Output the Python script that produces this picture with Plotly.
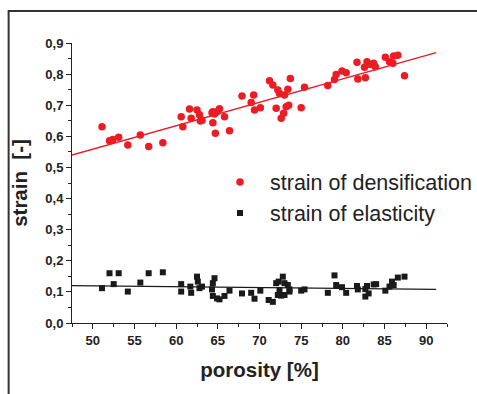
import plotly.graph_objects as go

# --- data ---
dens_porosity = [51.1, 52.0, 52.4, 53.1, 54.2, 55.7, 56.7, 58.4, 60.6, 60.8,
                 61.6, 61.8, 62.5, 62.8, 62.9, 63.1, 64.3, 64.4, 64.6, 64.9,
                 65.2, 64.4, 64.7, 65.8, 66.4, 67.9, 69.3, 69.0, 69.4, 70.1,
                 71.2, 71.6, 72.2, 72.4, 73.0, 73.4, 73.7, 72.0, 73.2, 73.5,
                 72.9, 72.6, 75.0, 75.4, 78.2, 79.0, 79.2, 79.9, 80.4, 81.7,
                 81.8, 82.7, 82.6, 82.9, 83.3, 83.7, 83.9, 85.1, 85.6, 86.0,
                 86.1, 86.6, 87.4]
dens_strain = [0.631, 0.586, 0.590, 0.597, 0.572, 0.604, 0.567, 0.579, 0.663, 0.631,
               0.688, 0.658, 0.685, 0.669, 0.649, 0.652, 0.676, 0.679, 0.672, 0.679,
               0.689, 0.644, 0.610, 0.663, 0.618, 0.730, 0.733, 0.709, 0.685, 0.692,
               0.779, 0.765, 0.749, 0.738, 0.733, 0.751, 0.786, 0.690, 0.695, 0.700,
               0.674, 0.658, 0.692, 0.758, 0.763, 0.783, 0.799, 0.810, 0.804, 0.838,
               0.784, 0.788, 0.822, 0.840, 0.831, 0.835, 0.824, 0.854, 0.840, 0.835,
               0.858, 0.861, 0.795]

elast_porosity = [51.1, 52.0, 52.5, 53.1, 54.2, 55.7, 56.7, 58.4, 60.6, 60.6,
                  61.7, 61.8, 62.5, 62.6, 62.8, 63.1, 64.3, 64.4, 64.6, 64.4,
                  64.9, 65.2, 65.8, 66.4, 67.9, 69.0, 69.4, 70.1, 71.1, 71.6,
                  72.0, 72.3, 72.8, 73.0, 73.4, 73.6, 72.4, 72.6, 73.0, 73.6,
                  72.2, 75.0, 75.4, 78.2, 79.0, 79.2, 79.9, 80.4, 81.7, 81.8,
                  82.7, 82.9, 82.7, 83.1, 83.7, 84.0, 85.1, 85.6, 85.9, 86.1,
                  86.6, 87.4]
elast_strain = [0.112, 0.160, 0.125, 0.160, 0.101, 0.130, 0.160, 0.163, 0.125, 0.101,
                0.117, 0.097, 0.149, 0.133, 0.112, 0.117, 0.108, 0.128, 0.144, 0.087,
                0.079, 0.076, 0.087, 0.104, 0.095, 0.097, 0.078, 0.104, 0.074, 0.068,
                0.128, 0.133, 0.149, 0.128, 0.122, 0.108, 0.106, 0.088, 0.090, 0.101,
                0.090, 0.104, 0.108, 0.097, 0.153, 0.122, 0.115, 0.097, 0.119, 0.108,
                0.109, 0.119, 0.085, 0.095, 0.124, 0.125, 0.104, 0.117, 0.133, 0.122,
                0.146, 0.149]

# linear fit lines as drawn in the reference (end points)
fit_porosity = [47.5, 91.2]
dens_fit = [0.540, 0.869]
elast_fit = [0.120, 0.108]

x_ticks = [50, 55, 60, 65, 70, 75, 80, 85, 90]

RED = "#ec1c24"
BLACK = "#1a1a1a"
FONT = "Arial, 'Liberation Sans', sans-serif"

fig = go.Figure()
fig.add_trace(go.Scatter(x=fit_porosity, y=dens_fit, mode="lines",
                         line=dict(color=RED, width=1.5), showlegend=False,
                         hoverinfo="skip"))
fig.add_trace(go.Scatter(x=fit_porosity, y=elast_fit, mode="lines",
                         line=dict(color=BLACK, width=1.2), showlegend=False,
                         hoverinfo="skip"))
fig.add_trace(go.Scatter(x=dens_porosity, y=dens_strain, mode="markers",
                         name="strain of densification", legendgroup="a",
                         marker=dict(symbol="circle", size=7.5, color=RED)))
fig.add_trace(go.Scatter(x=elast_porosity, y=elast_strain, mode="markers",
                         name="strain of elasticity", legendgroup="b",
                         marker=dict(symbol="square", size=6, color=BLACK)))

axis_common = dict(
    showline=True, linecolor="#222", linewidth=1,
    ticks="outside", ticklen=5, tickwidth=1, tickcolor="#222",
    showgrid=False, zeroline=False,
    tickfont=dict(family=FONT, size=13, color="#222", weight="bold"),
)

fig.update_xaxes(**axis_common, range=[47.5, 92.5], tickvals=x_ticks,
                 minor=dict(ticks="outside", ticklen=3, dtick=2.5, tick0=47.5,
                            tickcolor="#222", showgrid=False),
                 title=dict(text="porosity [%]", standoff=16,
                            font=dict(family=FONT, size=20.5, color="#222",
                                      weight="bold")))
fig.update_yaxes(**axis_common, range=[0, 0.9], dtick=0.1, tick0=0,
                 tickformat=".1f",
                 minor=dict(ticks="outside", ticklen=3, dtick=0.05,
                            tickcolor="#222", showgrid=False),
                 title=dict(text="strain\u00a0\u00a0[-]", standoff=12,
                            font=dict(family=FONT, size=20.5, color="#222",
                                      weight="bold")))

# outer frame of the figure (right and bottom sides lie outside the picture)
fig.add_shape(type="rect", xref="paper", yref="paper",
              x0=-0.169, x1=3.0, y0=-3.0, y1=1.114,
              line=dict(color="#333", width=2), fillcolor="rgba(0,0,0,0)",
              layer="below")

fig.update_layout(
    width=477, height=394,
    margin=dict(l=72, r=30, t=43, b=71, autoexpand=False),
    plot_bgcolor="white", paper_bgcolor="white",
    separators=", ",
    font=dict(family=FONT),
    legend=dict(xref="container", yref="container",
                x=1.0, y=0.590, xanchor="right", yanchor="top",
                bgcolor="rgba(0,0,0,0)", tracegroupgap=0, itemwidth=50,
                font=dict(family=FONT, size=21.5, color="#222")),
)

# remove the default page margin so the figure fills the window exactly
fig.write_html("out.html",
               config={"displayModeBar": False},
               post_script="document.body.style.margin='0';"
                           "document.body.style.overflow='hidden';")
